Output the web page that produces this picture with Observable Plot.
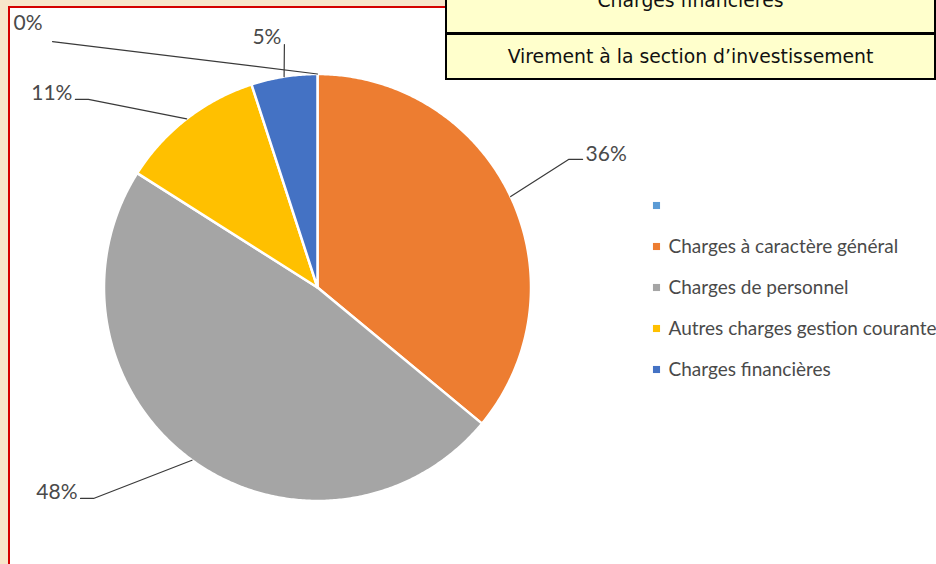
<!DOCTYPE html>
<html>
<head>
<meta charset="utf-8">
<script src="https://cdn.jsdelivr.net/npm/d3@7"></script>
<script src="https://cdn.jsdelivr.net/npm/@observablehq/plot@0.6"></script>
<style>
  body { margin:0; width:936px; height:564px; overflow:hidden; position:relative; background:#f7e6cb; font-family: Lato, "Open Sans", sans-serif; }
  #panel { position:absolute; left:8px; top:6px; width:940px; height:600px; background:#fff; border-left:2px solid #d40000; border-top:2px solid #d40000; }
  #chart { position:absolute; left:0; top:0; }
  #legend { position:absolute; left:640px; top:180px; }
  #table { position:absolute; left:445px; top:-20px; width:491px; height:100px; box-sizing:border-box; border:2.5px solid #000; background:#ffffcc; font-family:"DejaVu Sans", sans-serif; font-size:18.8px; color:#111; }
  #table .sep { position:absolute; left:0; right:0; top:50px; height:2.5px; background:#000; }
  #table .row { position:absolute; left:0; right:0; text-align:center; line-height:22px; white-space:nowrap; }
</style>
</head>
<body>
<div id="panel"></div>
<div id="chart"></div>
<div id="legend"></div>
<div id="table">
  <div class="row" id="r1"></div>
  <div class="sep"></div>
  <div class="row" id="r2"></div>
</div>
<script>
// ---- data ----
const categories = ["", "Charges à caractère général", "Charges de personnel", "Autres charges gestion courante", "Charges financières"];
const shares = [0, 36, 48, 11, 5];
const labels = ["0%", "36%", "48%", "11%", "5%"];
const tableRows = ["Charges financières", "Virement à la section d’investissement"];
const colors = ["#5B9BD5", "#ED7D31", "#A5A5A5", "#FFC000", "#4472C4"];

// ---- label layout (unit-radius coordinates of leader elbows, tail px, side, text offsets px) ----
const labelElbow = [[-1.241, 1.152], [1.176, 0.600], [-1.049, -0.988], [-1.073, 0.881], [-0.155, 1.138]];
const labelTail = [0, 14, 13, 13, 0];
const labelSide = [-1, 1, -1, -1, -1];
const labelOffset = [[-10, -18], [3, -5], [-3, -6], [-3, -6], [-3, -7]];
const R = 213.5; // px per unit radius

document.getElementById("r1").textContent = tableRows[0];
document.getElementById("r1").style.top = "8px";
document.getElementById("r2").textContent = tableRows[1];
document.getElementById("r2").style.top = "64px";

const total = d3.sum(shares);
let acc = 0;
const slices = shares.map((v, i) => {
  const a0 = acc / total * 2 * Math.PI;
  acc += v;
  const a1 = acc / total * 2 * Math.PI;
  return {i, a0, a1, mid: (a0 + a1) / 2};
});

const polys = [];
for (const s of slices) {
  if (s.a1 - s.a0 <= 0) continue;
  const n = Math.max(2, Math.ceil((s.a1 - s.a0) / (Math.PI / 360)));
  polys.push({i: s.i, x: 0, y: 0});
  for (let k = 0; k <= n; k++) {
    const a = s.a0 + (s.a1 - s.a0) * k / n;
    polys.push({i: s.i, x: Math.sin(a), y: Math.cos(a)});
  }
  polys.push({i: s.i, x: 0, y: 0});
}

const leaders = [];
const texts = [];
slices.forEach((s, i) => {
  const [ex, ey] = labelElbow[i];
  const tx = ex + labelSide[i] * labelTail[i] / R;
  leaders.push({i, x: Math.sin(s.mid), y: Math.cos(s.mid)});
  leaders.push({i, x: ex, y: ey});
  leaders.push({i, x: tx, y: ey});
  texts.push({
    i, label: labels[i],
    x: tx + labelOffset[i][0] / R,
    y: ey - labelOffset[i][1] / R,
    anchor: labelSide[i] < 0 ? "end" : "start"
  });
});

const colorScale = {type: "ordinal", domain: d3.range(categories.length), range: colors};

const chart = Plot.plot({
  width: 936, height: 564, margin: 0,
  x: {domain: [-1, 1], range: [317 - R, 317 + R], axis: null},
  y: {domain: [-1, 1], range: [287 + R, 287 - R], axis: null},
  color: colorScale,
  style: {background: "transparent", overflow: "visible"},
  marks: [
    Plot.line(polys, {x: "x", y: "y", z: "i", fill: "i", stroke: "white", strokeWidth: 2.5, strokeLinejoin: "round", curve: "linear"}),
    Plot.line(leaders, {x: "x", y: "y", z: "i", stroke: "#3a3a3a", strokeWidth: 1.2, curve: "linear"}),
    Plot.text(texts.filter(t => t.anchor === "end"), {x: "x", y: "y", text: "label", textAnchor: "end", fill: "#4a4a4a", fontSize: 21, fontFamily: "Lato, sans-serif"}),
    Plot.text(texts.filter(t => t.anchor === "start"), {x: "x", y: "y", text: "label", textAnchor: "start", fill: "#4a4a4a", fontSize: 21, fontFamily: "Lato, sans-serif"})
  ]
});
document.getElementById("chart").appendChild(chart);

const legendData = categories.map((c, i) => ({i, name: c}));
const legend = Plot.plot({
  width: 296, height: 210, margin: 0,
  x: {domain: [0, 1], range: [16, 280], axis: null},
  y: {type: "point", domain: d3.range(categories.length), range: [23, 190], padding: 0, axis: null},
  color: colorScale,
  style: {background: "transparent", overflow: "visible"},
  marks: [
    Plot.dot(legendData, {x: () => 0, y: "i", symbol: "square", r: 4, fill: "i"}),
    Plot.text(legendData, {x: () => 0, y: "i", text: "name", dx: 12, textAnchor: "start", fill: "#4a4a4a", fontSize: 19, fontFamily: "Lato, sans-serif"})
  ]
});
document.getElementById("legend").appendChild(legend);
</script>
</body>
</html>
